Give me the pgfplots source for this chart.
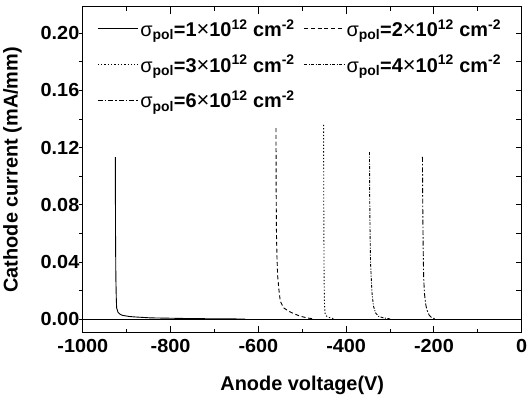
\documentclass[border=0pt]{standalone}
\usepackage{pgfplots}
\pgfplotsset{compat=1.18}
\usepackage{fontspec}
\setmainfont{Liberation Sans}
\newcommand{\sig}[1]{{\mdseries σ}\textsubscript{pol}=#1{\mdseries\fontsize{22}{22}\selectfont ×}10\textsuperscript{12} cm\textsuperscript{-2}}
\begin{document}
\begin{tikzpicture}
\pgfplotsset{
  base/.style={scale only axis, width=439.4bp, height=326.6bp,
    xmin=-1000, xmax=0, ymin=-0.0095, ymax=0.2185,
    xtick={-1000,-800,-600,-400,-200,0},
    minor xtick={-900,-700,-500,-300,-100},
    ytick={0,0.04,0.08,0.12,0.16,0.20},
    minor ytick={0.02,0.06,0.10,0.14,0.18},
    axis line style={line width=0.9bp}, tick style={line width=0.9bp,black}}
}
\begin{axis}[base,
  font=\bfseries,
  xtick pos=both, xtick align=inside,
  major tick length=7bp, minor tick length=4.4bp,
  ytick pos=left, ytick style={draw=none},
  xticklabels={-1000,-800,-600,-400,-200,0},
  yticklabels={0.00,0.04,0.08,0.12,0.16,0.20},
  ticklabel style={font=\bfseries\fontsize{19}{19}\selectfont\addfontfeature{FakeStretch=1.05}},
  xticklabel style={yshift=-3bp},
  xlabel={Anode voltage(V)}, ylabel={Cathode current (mA/mm)},
  label style={font=\bfseries\fontsize{20}{20}\selectfont},
  xlabel style={yshift=-16bp},
  ylabel style={yshift=12bp},
  legend columns=2,
  legend cell align=left,
  legend style={draw=none, fill=none, at={(0.026,0.974)}, anchor=north west,
     font=\bfseries\fontsize{20}{20}\selectfont, row sep=13bp,
     /tikz/every even column/.append style={column sep=7bp}},
  legend image code/.code={\draw[#1] (0bp,0bp) -- (40bp,0bp);},
]
\addplot[black, line width=0.9bp, solid] coordinates {(-926,0.1134) (-925.5,0.06) (-924.8,0.03) (-923.8,0.015) (-923,0.008) (-920,0.005) (-916,0.0037) (-910,0.0028) (-895,0.002) (-884,0.0017) (-846,0.001) (-754,0.0005) (-630,0.0002)};
\addlegendentry{\sig{1}}
\addplot[black, line width=0.9bp, dash pattern=on 4bp off 2.7bp] coordinates {(-559.9,0.1336) (-559.5,0.09) (-558.8,0.06) (-557.7,0.044) (-556,0.03) (-553,0.02) (-550.1,0.0126) (-542.5,0.008) (-530,0.0055) (-519.7,0.004) (-505,0.0022) (-489.4,0.001) (-475,0.0003)};
\addlegendentry{\sig{2}}
\addplot[black, line width=0.9bp, dash pattern=on 1.3bp off 2bp] coordinates {(-451.4,0.1359) (-451,0.08) (-450.3,0.03) (-449.5,0.012) (-448.5,0.006) (-447.6,0.0033) (-443,0.0018) (-436.3,0.001) (-425,0.0003)};
\addlegendentry{\sig{3}}
\addplot[black, line width=0.9bp, dash pattern=on 3bp off 1.5bp on 1bp off 1.5bp] coordinates {(-346.8,0.1168) (-346.5,0.09) (-345.5,0.06) (-344.5,0.04) (-343,0.03) (-341,0.018) (-337.7,0.0091) (-333,0.0045) (-326.4,0.0021) (-315,0.001) (-300,0.0003)};
\addlegendentry{\sig{4}}
\addplot[black, line width=0.9bp, dash pattern=on 5bp off 2bp on 1.5bp off 2bp] coordinates {(-226.2,0.1136) (-225.5,0.08) (-224.5,0.05) (-223.5,0.03) (-221.7,0.0184) (-219,0.011) (-216.3,0.0068) (-211,0.003) (-204.8,0.001) (-195,0.0003)};
\addlegendentry{\sig{6}}
\addplot[black, line width=0.9bp, forget plot] coordinates {(-1000,0) (0,0)};
\end{axis}
\begin{axis}[base, hide x axis, ytick pos=left, ytick align=outside,
  major tick length=4bp, minor tick length=4bp, yticklabels={}, axis y line*=left]
\end{axis}
\begin{axis}[base, hide x axis, ytick pos=right, ytick align=inside,
  major tick length=5.7bp, minor tick length=5.7bp, yticklabels={}, axis y line*=right]
\end{axis}
\path ([xshift=-82.3bp,yshift=-64.7bp]current axis.south west) rectangle ([xshift=9.3bp,yshift=6.7bp]current axis.north east);
\end{tikzpicture}
\end{document}
